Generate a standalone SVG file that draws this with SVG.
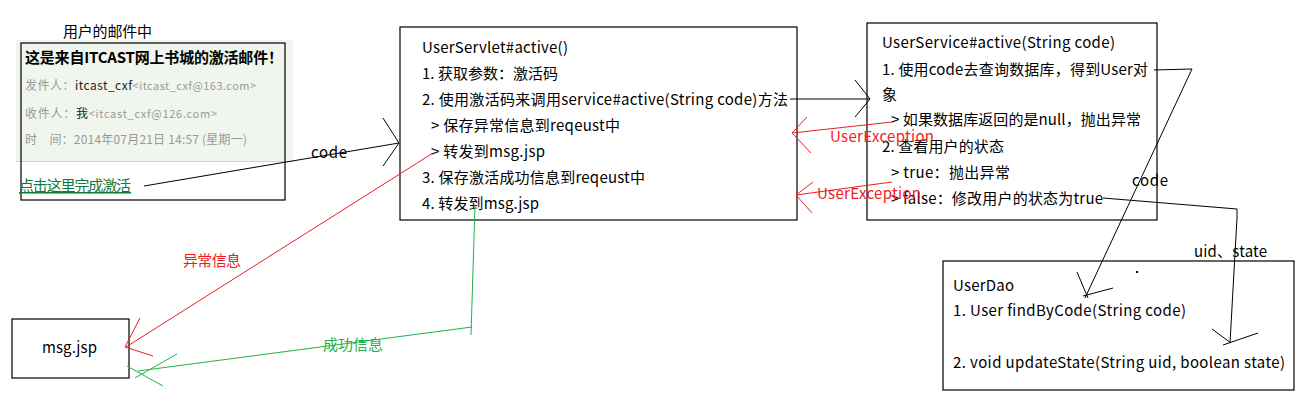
<svg xmlns="http://www.w3.org/2000/svg" width="1305" height="400" viewBox="0 0 1305 400">
<style>
text{font-family:"Microsoft YaHei","Noto Sans CJK SC","Noto Sans",sans-serif;font-size:15px;fill:#000}
.box{fill:#fff;stroke:#000;stroke-width:1.2}
.ln{fill:none;stroke:#000;stroke-width:1}
.red{fill:none;stroke:#ed1c24;stroke-width:1}
.grn{fill:none;stroke:#22b14c;stroke-width:1}
.g{fill:#999;font-size:12px}
.k{fill:#222}
.rt{fill:#ed1c24}
.gt{fill:#22b14c}
</style>
<rect width="1305" height="400" fill="#fff"/>

<g id="email">
<text x="63" y="37" font-size="14" textLength="89" lengthAdjust="spacing">用户的邮件中</text>
<rect x="16" y="40" width="277" height="121" fill="#f0f6ed"/>
<line x1="16" y1="161.5" x2="293" y2="161.5" stroke="#c8d8c4" stroke-width="1"/>
<rect x="21" y="43" width="264" height="157" fill="none" stroke="#000" stroke-width="1.2"/>
<text x="25" y="63" font-weight="bold" font-size="14" textLength="258" lengthAdjust="spacing">这是来自ITCAST网上书城的激活邮件！</text>
<text x="25" y="90" class="g" textLength="231" lengthAdjust="spacing">发件人：<tspan class="k">itcast_cxf</tspan><tspan font-size="11">&lt;itcast_cxf@163.com&gt;</tspan></text>
<text x="25" y="118" class="g" textLength="192" lengthAdjust="spacing">收件人：<tspan class="k">我</tspan><tspan font-size="11">&lt;itcast_cxf@126.com&gt;</tspan></text>
<text x="25" y="144" class="g" textLength="222" lengthAdjust="spacing">时　间：2014年07月21日 14:57 (星期一)</text>
<text x="19" y="191" font-size="14" style="fill:#117a3a" text-decoration="underline" textLength="112" lengthAdjust="spacing">点击这里完成激活</text>
</g>

<g id="servlet">
<rect class="box" x="400" y="27" width="397" height="193"/>
<text x="422" y="53" textLength="146" lengthAdjust="spacing">UserServlet#active()</text>
<text x="422" y="79" textLength="136" lengthAdjust="spacing">1. 获取参数：激活码</text>
<text x="422" y="105" textLength="366" lengthAdjust="spacing">2. 使用激活码来调用service#active(String code)方法</text>
<text x="431" y="131" textLength="189" lengthAdjust="spacing">&gt; 保存异常信息到reqeust中</text>
<text x="431" y="157" textLength="114" lengthAdjust="spacing">&gt; 转发到msg.jsp</text>
<text x="422" y="183" textLength="223" lengthAdjust="spacing">3. 保存激活成功信息到reqeust中</text>
<text x="422" y="209" textLength="117" lengthAdjust="spacing">4. 转发到msg.jsp</text>
</g>

<g id="service">
<rect class="box" x="867" y="23" width="290" height="197"/>
<text x="882" y="48" textLength="233" lengthAdjust="spacing">UserService#active(String code)</text>
<text x="882" y="75" textLength="266" lengthAdjust="spacing">1. 使用code去查询数据库，得到User对</text>
<text x="882" y="100">象</text>
<text x="891" y="125" textLength="250" lengthAdjust="spacing">&gt; 如果数据库返回的是null，抛出异常</text>
<text x="882" y="152" textLength="122" lengthAdjust="spacing">2. 查看用户的状态</text>
<text x="891" y="178" textLength="119" lengthAdjust="spacing">&gt; true：抛出异常</text>
<text x="891" y="204" textLength="212" lengthAdjust="spacing">&gt; false：修改用户的状态为true</text>
</g>

<g id="dao">
<rect class="box" x="943" y="261" width="351" height="129"/>
<text x="953" y="291" textLength="61" lengthAdjust="spacing">UserDao</text>
<text x="953" y="316" textLength="233" lengthAdjust="spacing">1. User findByCode(String code)</text>
<text x="953" y="368" textLength="332" lengthAdjust="spacing">2. void updateState(String uid, boolean state)</text>
<rect x="1136" y="271" width="2" height="2" fill="#000"/>
</g>

<g id="msg">
<rect class="box" x="12" y="319" width="117" height="59"/>
<text x="42" y="353" textLength="55" lengthAdjust="spacing">msg.jsp</text>
</g>

<g id="connectors">
<polyline class="ln" points="144,186 399,143"/>
<polyline class="ln" points="383,118 399,143 383,166"/>
<text x="311" y="158" textLength="36" lengthAdjust="spacing">code</text>

<polyline class="ln" points="790,99 870,99"/>
<polyline class="ln" points="855,80 870,99 855,117"/>

<polyline class="red" points="892,122 792,133"/>
<polyline class="red" points="807,117 792,133 811,153"/>
<text x="830" y="142" class="rt" textLength="104" lengthAdjust="spacing">UserException</text>

<polyline class="red" points="892,182 796,195"/>
<polyline class="red" points="813,182 796,195 812,213"/>
<text x="817" y="199" class="rt" textLength="104" lengthAdjust="spacing">UserException</text>

<polyline class="ln" points="1154,70 1192,69 1085,298"/>
<line class="ln" x1="1077" y1="272" x2="1088" y2="298"/>
<line class="ln" x1="1113" y1="288" x2="1083" y2="296"/>
<text x="1132" y="186" textLength="36" lengthAdjust="spacing">code</text>

<polyline class="ln" points="1103,198 1237,209 1237,218 1230,343"/>
<line class="ln" x1="1212" y1="329" x2="1231" y2="343"/>
<line class="ln" x1="1258" y1="333" x2="1223" y2="345"/>
<text x="1194" y="257" textLength="73" lengthAdjust="spacing">uid、state</text>

<polyline class="red" points="433,153 126,347"/>
<polyline class="red" points="140,318 125,347 153,356"/>
<text x="183" y="266" class="rt" textLength="58" lengthAdjust="spacing">异常信息</text>

<polyline class="grn" points="475,205 471,335"/>
<polyline class="grn" points="472,327 138,371"/>
<line class="grn" x1="177" y1="354" x2="135" y2="378"/>
<line class="grn" x1="127" y1="366" x2="163" y2="386"/>
<text x="323" y="350" class="gt" textLength="60" lengthAdjust="spacing">成功信息</text>
</g>
</svg>
